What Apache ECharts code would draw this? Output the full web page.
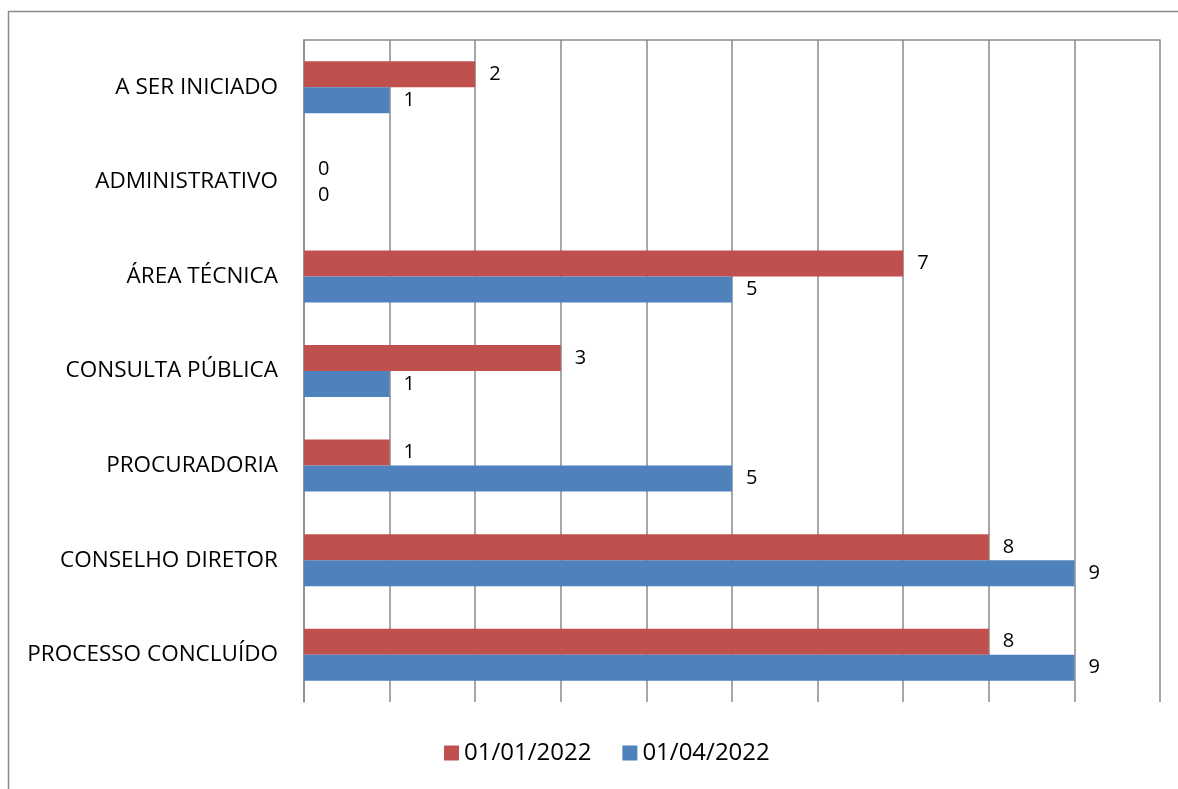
<!DOCTYPE html>
<html>
<head>
<meta charset="utf-8">
<script src="https://cdn.jsdelivr.net/npm/echarts@6/dist/echarts.min.js"></script>
<style>
html,body{margin:0;padding:0;background:#fff;}
#chart{width:1178px;height:789px;}
</style>
</head>
<body>
<div id="chart"></div>
<script>
const categories = ['A SER INICIADO', 'ADMINISTRATIVO', 'ÁREA TÉCNICA', 'CONSULTA PÚBLICA', 'PROCURADORIA', 'CONSELHO DIRETOR', 'PROCESSO CONCLUÍDO'];
const seriesNames = ['01/01/2022', '01/04/2022'];
const valuesJan = [2, 0, 7, 3, 1, 8, 8];
const valuesApr = [1, 0, 5, 1, 5, 9, 9];
const axisMin = 0, axisMax = 10, axisInterval = 1;

const font = '"Open Sans", "Noto Sans", sans-serif';
const chart = echarts.init(document.getElementById('chart'));
const labelCfg = {show: true, position: 'right', distance: 14, color: '#000', fontSize: 20, fontFamily: font};
chart.setOption({
  animation: false,
  backgroundColor: '#fff',
  graphic: [{
    type: 'rect',
    shape: {x: 8.5, y: 11.5, width: 1300, height: 900},
    style: {fill: 'none', stroke: '#8a8a8a', lineWidth: 1.5},
    silent: true
  }],
  grid: {left: 304, right: 18, top: 40, bottom: 87, containLabel: false},
  legend: {
    data: seriesNames,
    bottom: 19,
    left: 439,
    itemWidth: 15,
    itemHeight: 15,
    itemGap: 31,
    icon: 'rect',
    textStyle: {fontSize: 24, color: '#000', fontFamily: font}
  },
  xAxis: {
    type: 'value',
    position: 'top',
    min: axisMin, max: axisMax, interval: axisInterval,
    axisLine: {show: true, lineStyle: {color: '#8a8a8a', width: 1.5}},
    axisTick: {show: false},
    axisLabel: {show: false},
    splitLine: {show: true, lineStyle: {color: '#8a8a8a', width: 1.5}}
  },
  yAxis: {
    type: 'category',
    inverse: true,
    data: categories,
    axisLine: {show: true, lineStyle: {color: '#8a8a8a', width: 1.5}},
    axisTick: {show: false},
    axisLabel: {color: '#000', fontSize: 22.5, fontFamily: font, margin: 26}
  },
  series: [
    {name: seriesNames[0], type: 'bar', data: valuesJan, barWidth: 26, barGap: '0%',
     itemStyle: {color: '#C0504D'}, label: labelCfg},
    {name: seriesNames[1], type: 'bar', data: valuesApr, barWidth: 26, barGap: '0%',
     itemStyle: {color: '#4F81BD'}, label: labelCfg}
  ]
});
</script>
</body>
</html>
